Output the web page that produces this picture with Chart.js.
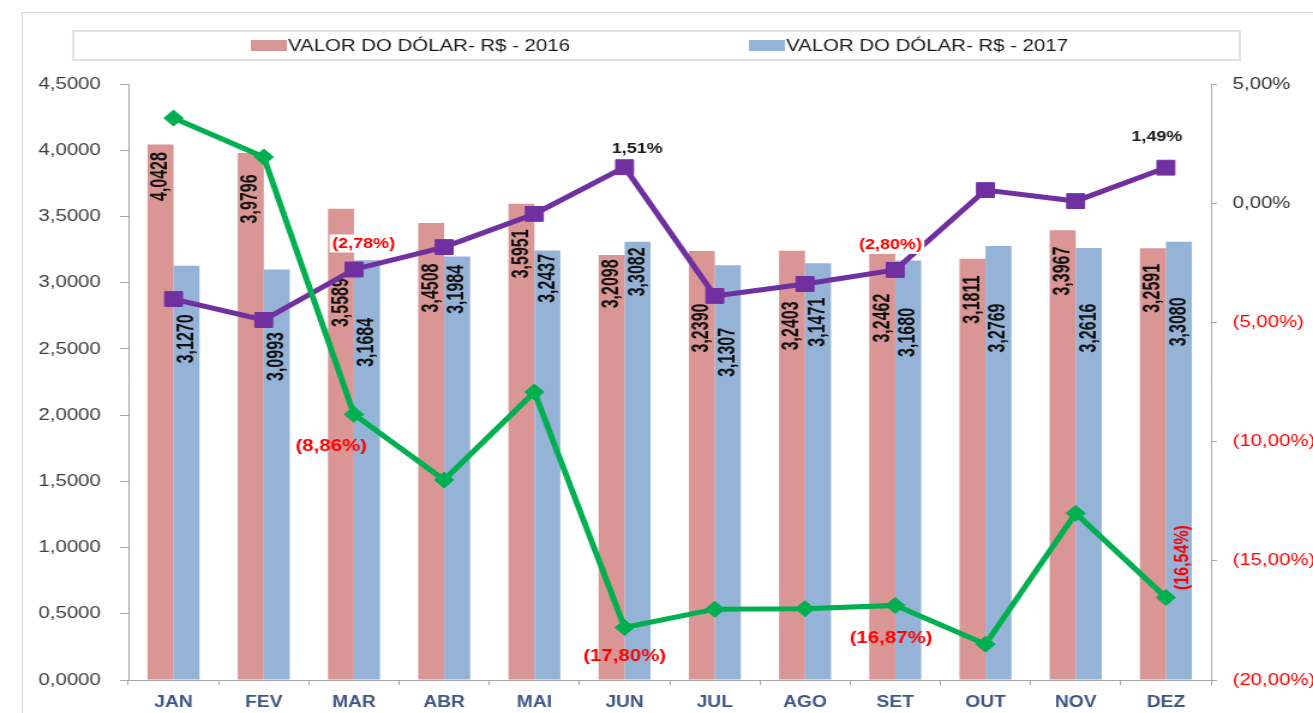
<!DOCTYPE html>
<html>
<head>
<meta charset="utf-8">
<script src="https://cdn.jsdelivr.net/npm/chart.js@4/dist/chart.umd.min.js"></script>
<style>
	html, body { margin: 0; padding: 0; background: #fff; overflow: hidden; }
</style>
</head>
<body>
<!-- the source picture is stretched sideways, so the canvas is too -->
<canvas id="grafico" width="1094" height="713" style="display:block;width:1313px;height:713px"></canvas>
<script>
const meses = ['JAN', 'FEV', 'MAR', 'ABR', 'MAI', 'JUN', 'JUL', 'AGO', 'SET', 'OUT', 'NOV', 'DEZ'];
const dolar2016 = [4.0428, 3.9796, 3.5589, 3.4508, 3.5951, 3.2098, 3.2390, 3.2403, 3.2462, 3.1811, 3.3967, 3.2591];
const dolar2017 = [3.1270, 3.0993, 3.1684, 3.1984, 3.2437, 3.3082, 3.1307, 3.1471, 3.1680, 3.2769, 3.2616, 3.3080];
// variações em % (eixo da direita)
const variacaoRoxa = [-4.02, -4.90, -2.78, -1.84, -0.45, 1.51, -3.89, -3.39, -2.80, 0.55, 0.09, 1.49];
const variacaoVerde = [3.57, 1.94, -8.86, -11.61, -7.92, -17.80, -17.03, -17.01, -16.87, -18.50, -13.01, -16.54];
const mesesRotulados = [2, 5, 8, 11];

// estilo dos rótulos (não são dados)
const FONTE = "'Liberation Sans', Arial, sans-serif";
const descida2016 = [32, 46, 94, 65, 50, 29, 77, 75, 68, 41, 41, 40];
const descida2017 = [73, 87, 82, 33, 28, 30, 87, 59, 72, 82, 80, 80];
const deslocRoxo = { 2: [8, -26], 5: [10.5, -18], 8: [-4, -25], 11: [-7.5, -31] };
const deslocVerde = { 2: [-19, 32], 5: [0, 29], 8: [-3.5, 33], 11: [14, -40] };

const COR_2016 = '#D99694';
const COR_2017 = '#95B3D7';
const COR_EIXO = '#A6A6A6';
const VERMELHO = '#FF0000';

function fmt4(v) { return v.toFixed(4).replace('.', ','); }
function fmtPct(v) {
	var s = Math.abs(v).toFixed(2).replace('.', ',') + '%';
	return v < 0 ? '(' + s + ')' : s;
}

const rotulosPlugin = {
	id: 'rotulos',
	beforeDraw(chart) {
		const ctx = chart.ctx;
		ctx.save();
		ctx.fillStyle = '#fff';
		ctx.fillRect(0, 0, chart.width, chart.height);
		// moldura externa
		ctx.strokeStyle = '#D9D9D9';
		ctx.lineWidth = 1;
		ctx.strokeRect(18.5, 12.5, chart.width + 20, chart.height + 20);
		// caixa da legenda
		ctx.strokeStyle = '#E2E2E2';
		ctx.lineWidth = 2;
		ctx.strokeRect(61, 31, 972, 29);
		// itens da legenda
		const itens = [[209, 0], [624, 1]];
		ctx.font = '17px ' + FONTE;
		ctx.textBaseline = 'middle';
		ctx.textAlign = 'left';
		itens.forEach(function (it) {
			const ds = chart.data.datasets[it[1]];
			ctx.fillStyle = ds.backgroundColor;
			ctx.fillRect(it[0], 40, 30, 11);
			ctx.fillStyle = '#1a1a1a';
			ctx.fillText(ds.label, it[0] + 31, 46);
		});
		ctx.restore();
	},
	afterDatasetDraw(chart, args) {
		if (args.index > 1) return;
		const ctx = chart.ctx;
		const meta = args.meta;
		const valores = chart.data.datasets[args.index].data;
		const descida = args.index === 0 ? descida2016 : descida2017;
		ctx.save();
		ctx.fillStyle = '#111';
		ctx.font = 'bold 20px ' + FONTE;
		ctx.textAlign = 'center';
		ctx.textBaseline = 'middle';
		meta.data.forEach(function (el, i) {
			ctx.save();
			ctx.translate(el.x, el.y + descida[i]);
			ctx.rotate(-Math.PI / 2);
			ctx.scale(0.8, 1);
			ctx.fillText(fmt4(valores[i]), 0, 0);
			ctx.restore();
		});
		ctx.restore();
	},
	afterDatasetsDraw(chart) {
		const ctx = chart.ctx;
		ctx.save();
		ctx.textAlign = 'center';
		ctx.textBaseline = 'middle';
		const roxo = chart.getDatasetMeta(3);
		const verde = chart.getDatasetMeta(2);
		mesesRotulados.forEach(function (i) {
			// linha roxa
			var p = roxo.data[i];
			var d = deslocRoxo[i];
			var txt = fmtPct(variacaoRoxa[i]);
			ctx.font = 'bold 15px ' + FONTE;
			var w = ctx.measureText(txt).width;
			var x = p.x + d[0], y = p.y + d[1];
			if (variacaoRoxa[i] < 0) {
				ctx.fillStyle = '#fff';
				ctx.fillRect(x - w / 2 - 2, y - 9, w + 4, 18);
			}
			ctx.fillStyle = variacaoRoxa[i] < 0 ? VERMELHO : '#1a1a1a';
			ctx.fillText(txt, x, y);

			// linha verde
			p = verde.data[i];
			d = deslocVerde[i];
			txt = fmtPct(variacaoVerde[i]);
			ctx.fillStyle = variacaoVerde[i] < 0 ? VERMELHO : '#1a1a1a';
			if (i === 11) {
				ctx.font = 'bold 16px ' + FONTE;
				ctx.save();
				ctx.translate(p.x + d[0], p.y + d[1]);
				ctx.rotate(-Math.PI / 2);
				ctx.fillText(txt, 0, 0);
				ctx.restore();
			} else {
				ctx.font = 'bold 17px ' + FONTE;
				ctx.fillText(txt, p.x + d[0], p.y + d[1]);
			}
		});
		ctx.restore();
	}
};

const ctx = document.getElementById('grafico').getContext('2d');
const grafico = new Chart(ctx, {
	type: 'bar',
	data: {
		labels: meses,
		datasets: [
			{
				label: 'VALOR DO DÓLAR- R$ - 2016',
				data: dolar2016,
				backgroundColor: COR_2016,
				yAxisID: 'y',
				order: 2,
				categoryPercentage: 0.576,
				barPercentage: 1
			},
			{
				label: 'VALOR DO DÓLAR- R$ - 2017',
				data: dolar2017,
				backgroundColor: COR_2017,
				yAxisID: 'y',
				order: 2,
				categoryPercentage: 0.576,
				barPercentage: 1
			},
			{
				type: 'line',
				label: 'VARIAÇÃO ACUMULADA',
				data: variacaoVerde,
				yAxisID: 'y1',
				order: 0,
				borderColor: '#00B050',
				backgroundColor: '#00B050',
				borderWidth: 5,
				pointStyle: 'rectRot',
				pointRadius: 8,
				pointBorderWidth: 1,
				tension: 0,
				fill: false
			},
			{
				type: 'line',
				label: 'VARIAÇÃO MENSAL',
				data: variacaoRoxa,
				yAxisID: 'y1',
				order: 1,
				borderColor: '#7030A0',
				backgroundColor: '#7030A0',
				borderWidth: 5,
				pointStyle: 'rect',
				pointRadius: 10.5,
				pointBorderWidth: 1,
				tension: 0,
				fill: false
			}
		]
	},
	options: {
		responsive: false,
		animation: false,
		devicePixelRatio: 1,
		layout: { padding: { top: 84, left: 0, right: 0, bottom: 0 } },
		plugins: {
			legend: { display: false },
			tooltip: { enabled: false }
		},
		scales: {
			x: {
				offset: true,
				grid: { display: true, drawOnChartArea: false, offset: true, tickLength: 5, color: COR_EIXO },
				border: { color: COR_EIXO, width: 1 },
				ticks: { color: '#3F5787', font: { family: FONTE, size: 16, weight: 'bold' }, padding: 8 },
				afterFit(scale) { scale.height = 33; }
			},
			y: {
				position: 'left',
				min: 0,
				max: 4.5,
				grid: { display: true, drawOnChartArea: false, tickLength: 7, color: COR_EIXO },
				border: { color: COR_EIXO, width: 1 },
				ticks: {
					stepSize: 0.5,
					color: '#404040',
					padding: 16,
					font: { family: FONTE, size: 17 },
					callback: function (v) { return fmt4(v); }
				},
				afterFit(scale) { scale.width = 107; }
			},
			y1: {
				position: 'right',
				min: -20,
				max: 5,
				grid: { display: true, drawOnChartArea: false, tickLength: 5, color: COR_EIXO },
				border: { color: COR_EIXO, width: 1 },
				ticks: {
					stepSize: 5,
					padding: 13,
					font: { family: FONTE, size: 17 },
					color: function (c) { return c.tick && c.tick.value < 0 ? VERMELHO : '#333'; },
					callback: function (v) { return fmtPct(v); }
				},
				afterFit(scale) { scale.width = 85; }
			}
		}
	},
	plugins: [rotulosPlugin]
});
</script>
</body>
</html>
